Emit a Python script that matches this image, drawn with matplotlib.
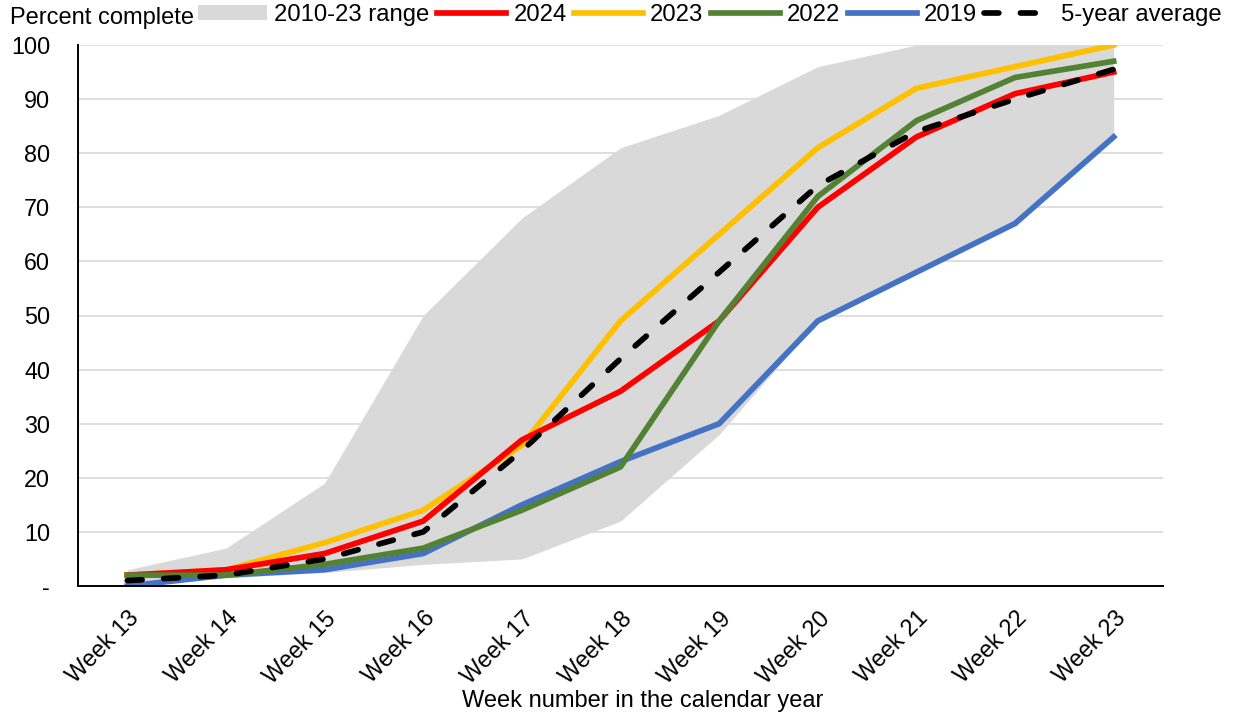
import matplotlib
matplotlib.use("Agg")
import matplotlib.pyplot as plt
from matplotlib.patches import Patch
from matplotlib.lines import Line2D
import numpy as np

plt.rcParams['font.family'] = ['Liberation Sans', 'DejaVu Sans']

weeks = ["Week 13", "Week 14", "Week 15", "Week 16", "Week 17", "Week 18",
         "Week 19", "Week 20", "Week 21", "Week 22", "Week 23"]

range_low = [0, 1.5, 2.5, 4, 5, 12, 28, 49, 58, 67, 83]
range_high = [3, 7, 19, 50, 68, 81, 87, 96, 100, 100, 100]

y2024 = [2, 3, 6, 12, 27, 36, 49, 70, 83, 91, 95]
y2023 = [2, 3, 8, 14, 26, 49, 65, 81, 92, 96, 100]
y2022 = [2, 2, 4, 7, 14, 22, 49, 72, 86, 94, 97]
y2019 = [0, 2, 3, 6, 15, 23, 30, 49, 58, 67, 83]
avg5 = [1, 2, 5, 10, 25, 42, 58, 74, 84, 90, 95.5]

C_RANGE = "#D9D9D9"
C_2024 = "#FF0000"
C_2023 = "#FFC000"
C_2022 = "#548235"
C_2019 = "#4472C4"

fig = plt.figure(figsize=(12.37, 7.19), dpi=100)
ax = fig.add_axes([78 / 1237, 1 - 586 / 719, (1163 - 78) / 1237, (586 - 45) / 719])

x = np.arange(len(weeks))
lw = 4.1
dash = (2.6, 3.8)

ax.fill_between(x, range_low, range_high, color=C_RANGE, lw=0, zorder=1)
ax.plot(x, y2023, color=C_2023, lw=lw, zorder=3, solid_joinstyle='round')
ax.plot(x, y2024, color=C_2024, lw=lw, zorder=4, solid_joinstyle='round')
ax.plot(x, y2019, color=C_2019, lw=lw, zorder=5, solid_joinstyle='round')
ax.plot(x, y2022, color=C_2022, lw=lw, zorder=6, solid_joinstyle='round')
ax.plot(x, avg5, color="black", lw=lw, zorder=7, dashes=dash,
        dash_capstyle='round')

ax.set_xlim(-0.5, len(weeks) - 0.5)
ax.set_ylim(0, 100)
ax.set_yticks(np.arange(0, 101, 10))
ax.set_yticklabels(["-"] + [str(v) for v in range(10, 101, 10)])
ax.set_xticks(x)
ax.set_xticklabels(weeks, rotation=45, ha='right', rotation_mode='anchor')
ax.tick_params(axis='both', length=0, labelsize=16.8)
ax.tick_params(axis='y', pad=20)
ax.tick_params(axis='x', pad=15)

ax.grid(axis='y', color="#D9D9D9", lw=1.2, zorder=0)
ax.set_axisbelow(True)
for s in ("top", "right"):
    ax.spines[s].set_visible(False)
for s in ("left", "bottom"):
    ax.spines[s].set_color("black")
    ax.spines[s].set_linewidth(1.4)
    ax.spines[s].set_zorder(10)

ax.set_xlabel("Week number in the calendar year", fontsize=17, va='center')
ax.xaxis.set_label_coords((643 - 78) / 1085, (586 - 701) / 541)

fig.text(10 / 1237, 1 - 18 / 719, "Percent complete", fontsize=17, va='center', ha='left')

handles = [
    Patch(facecolor=C_RANGE, edgecolor='none'),
    Line2D([], [], color=C_2024, lw=lw),
    Line2D([], [], color=C_2023, lw=lw),
    Line2D([], [], color=C_2022, lw=lw),
    Line2D([], [], color=C_2019, lw=lw),
    Line2D([], [], color="black", lw=lw, dashes=dash, dash_capstyle='round'),
]
labels = ["2010-23 range", "2024", "2023", "2022", "2019", "5-year average"]
fig.legend(handles, labels, loc='center left', bbox_to_anchor=(198 / 1237, 1 - 15 / 719),
           ncol=6, frameon=False, fontsize=17.2, handlelength=2.9, handleheight=0.6,
           handletextpad=0.3, columnspacing=0.3, borderpad=0, borderaxespad=0)

fig.savefig("out.png", dpi=100)
